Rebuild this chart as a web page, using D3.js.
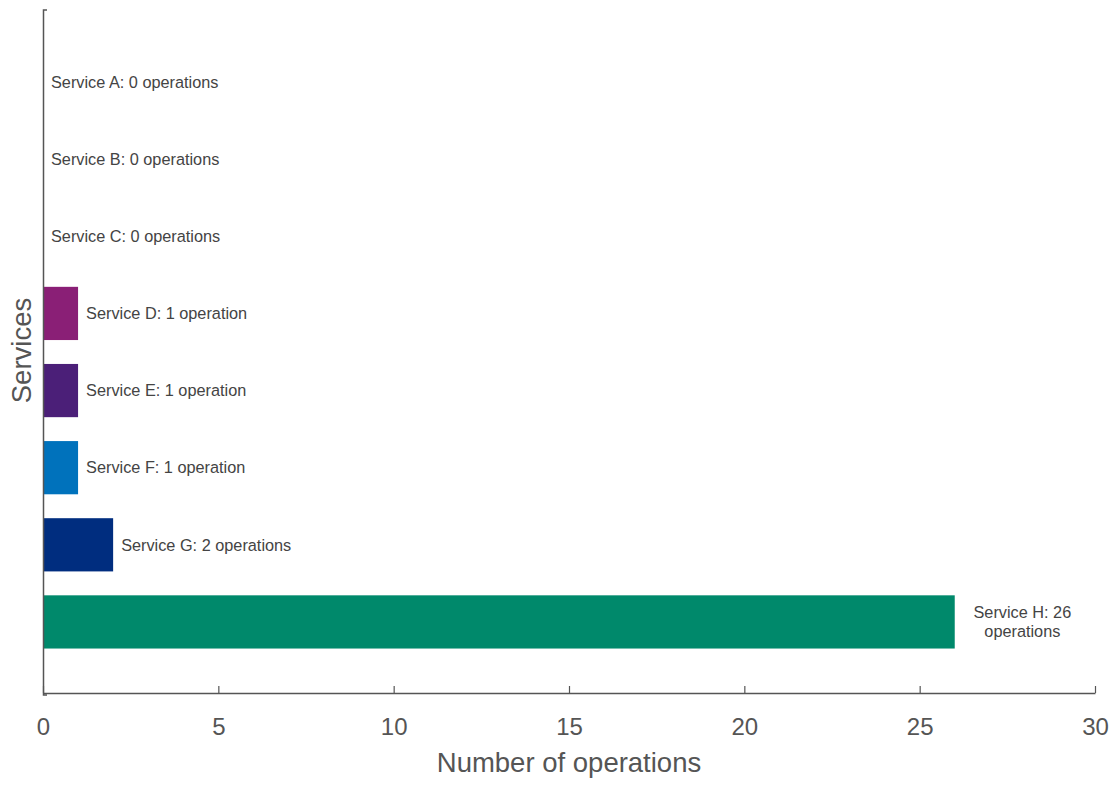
<!DOCTYPE html>
<html>
<head>
<meta charset="utf-8">
<script src="https://cdn.jsdelivr.net/npm/d3@7"></script>
<style>
  html, body { margin: 0; padding: 0; background: #fff; }
  svg { display: block; font-family: "Liberation Sans", Arial, sans-serif; }
</style>
</head>
<body>
<svg id="chart" width="1120" height="785"></svg>
<script>
// Operations per service
const services = ["Service A", "Service B", "Service C", "Service D", "Service E", "Service F", "Service G", "Service H"];
const operations = [0, 0, 0, 1, 1, 1, 2, 26];
const barColors = ["#8a1f76", "#8a1f76", "#8a1f76", "#8a1f76", "#4b1f78", "#0072bc", "#002d7f", "#00896b"];
const xTicks = [0, 5, 10, 15, 20, 25, 30];

const svg = d3.select("#chart");
const plotLeft = 43, plotRight = 1095, plotTop = 8, plotBottom = 693;

const x = d3.scaleLinear().domain([0, 30]).range([plotLeft, plotRight]);
const y = d3.scaleBand().domain(services).range([plotTop + 1.5, plotBottom + 1.5])
  .paddingInner(0.31).paddingOuter(0.596);

const axisColor = "#555";

// bars
svg.append("g").selectAll("rect")
  .data(services)
  .join("rect")
  .attr("x", x(0))
  .attr("y", d => y(d))
  .attr("width", (d, i) => x(operations[i]) - x(0))
  .attr("height", y.bandwidth())
  .attr("fill", (d, i) => barColors[i]);

// value labels, wrapped when they would run past the plot
const labels = svg.append("g").attr("font-size", 16.3).attr("fill", "#444");
services.forEach((s, i) => {
  const v = operations[i];
  const text = `${s}: ${v} operation${v === 1 ? "" : "s"}`;
  const cx = x(v) + 8;
  const cy = y(s) + y.bandwidth() / 2;
  const t = labels.append("text").attr("x", cx).attr("y", cy).attr("dy", "0.35em").text(text);
  if (cx + t.node().getComputedTextLength() > plotRight) {
    t.remove();
    const words = text.split(" ");
    const lines = [words.slice(0, -1).join(" "), words[words.length - 1]];
    const mid = (x(v) + 1120) / 2 - 15;
    const g = labels.append("text").attr("text-anchor", "middle");
    lines.forEach((ln, k) => {
      g.append("tspan").attr("x", mid).attr("y", cy + (k - 0.5) * 18.5).attr("dy", "0.35em").text(ln);
    });
  }
});

// x axis with inward ticks
const xAxis = svg.append("g")
  .attr("transform", `translate(0,${plotBottom})`)
  .call(d3.axisBottom(x).tickValues(xTicks).tickSize(-7).tickSizeOuter(0).tickPadding(25));
xAxis.select(".domain").attr("stroke", axisColor).attr("stroke-width", 1.5);
xAxis.selectAll(".tick line").attr("stroke", axisColor).attr("stroke-width", 1.2);
xAxis.selectAll(".tick text")
  .attr("font-size", 24).attr("fill", "#555")
  .attr("font-family", "Liberation Sans, Arial, sans-serif");

// y axis: line only, with a short cap at the top
const yAxis = svg.append("g")
  .attr("transform", `translate(${plotLeft},0)`)
  .call(d3.axisLeft(y).tickValues([]).tickSizeOuter(-4));
yAxis.select(".domain").attr("stroke", axisColor).attr("stroke-width", 1.5);

// axis titles
svg.append("text")
  .attr("x", (plotLeft + plotRight) / 2).attr("y", 772)
  .attr("text-anchor", "middle").attr("font-size", 27.5).attr("fill", "#555")
  .text("Number of operations");

svg.append("text")
  .attr("transform", `translate(31,${(plotTop + plotBottom) / 2}) rotate(-90)`)
  .attr("text-anchor", "middle").attr("font-size", 27.5).attr("fill", "#555")
  .text("Services");
</script>
</body>
</html>
